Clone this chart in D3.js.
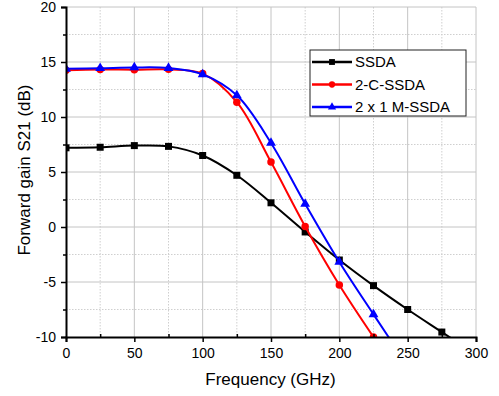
<!DOCTYPE html>
<html>
<head>
<meta charset="utf-8">
<script src="https://cdn.jsdelivr.net/npm/d3@7"></script>
<style>
  body { margin: 0; background: #fff; }
  svg { display: block; font-family: "Liberation Sans", Arial, sans-serif; }
</style>
</head>
<body>
<div id="chart"></div>
<script>
// Frequency points (GHz)
const freq = [0, 25, 50, 75, 100, 125, 150, 175, 200, 225, 250, 275, 300];

// Forward gain S21 (dB)
const ssda = [7.2, 7.25, 7.4, 7.33, 6.5, 4.7, 2.2, -0.45, -3.0, -5.33, -7.5, -9.55, -11.6];
const twoCSsda = [14.25, 14.32, 14.3, 14.33, 13.95, 11.35, 5.9, 0.05, -5.27, -10.0];
const mSsda = [14.38, 14.43, 14.5, 14.45, 13.88, 11.97, 7.64, 2.1, -3.18, -7.94, -12.6];

const xTicks = [0, 50, 100, 150, 200, 250, 300];
const yTicks = [-10, -5, 0, 5, 10, 15, 20];

const series = [
  { name: 'SSDA', values: ssda, color: '#000000', symbol: d3.symbolSquare, size: 49 },
  { name: '2-C-SSDA', values: twoCSsda, color: '#ff0000', symbol: d3.symbolCircle, size: 44 },
  { name: '2 x 1 M-SSDA', values: mSsda, color: '#0000ff', symbol: d3.symbolTriangle, size: 42 }
];

const width = 499, height = 396;
const margin = { top: 7, right: 23, bottom: 59, left: 66 };
const innerWidth = width - margin.left - margin.right;
const innerHeight = height - margin.top - margin.bottom;

const svg = d3.select('#chart').append('svg')
  .attr('width', width)
  .attr('height', height);

const g = svg.append('g')
  .attr('transform', `translate(${margin.left},${margin.top})`);

const x = d3.scaleLinear().domain([0, 300]).range([0, innerWidth]);
const y = d3.scaleLinear().domain([-10, 20]).range([innerHeight, 0]);

// Minor grid (dotted)
const xMinor = d3.range(25, 300, 50);
const yMinor = d3.range(-7.5, 20, 5);
g.append('g').selectAll('line').data(xMinor).enter().append('line')
  .attr('x1', d => x(d)).attr('x2', d => x(d))
  .attr('y1', 0).attr('y2', innerHeight)
  .attr('stroke', '#cfcfcf').attr('stroke-dasharray', '1.5,1.5');
g.append('g').selectAll('line').data(yMinor).enter().append('line')
  .attr('y1', d => y(d)).attr('y2', d => y(d))
  .attr('x1', 0).attr('x2', innerWidth)
  .attr('stroke', '#cfcfcf').attr('stroke-dasharray', '1.5,1.5');

// Major grid (solid)
g.append('g').selectAll('line').data(xTicks.slice(1)).enter().append('line')
  .attr('x1', d => x(d)).attr('x2', d => x(d))
  .attr('y1', 0).attr('y2', innerHeight)
  .attr('stroke', '#c4c4c4');
g.append('g').selectAll('line').data(yTicks.slice(1)).enter().append('line')
  .attr('y1', d => y(d)).attr('y2', d => y(d))
  .attr('x1', 0).attr('x2', innerWidth)
  .attr('stroke', '#c4c4c4');

// Clip to plot area
svg.append('defs').append('clipPath').attr('id', 'clip')
  .append('rect').attr('width', innerWidth).attr('height', innerHeight);

const plot = g.append('g').attr('clip-path', 'url(#clip)');

const line = d3.line()
  .x((d, i) => x(freq[i]))
  .y(d => y(d))
  .curve(d3.curveCatmullRom.alpha(0.5));

series.forEach(s => {
  plot.append('path')
    .datum(s.values)
    .attr('fill', 'none')
    .attr('stroke', s.color)
    .attr('stroke-width', 2)
    .attr('d', line);

  plot.selectAll(null)
    .data(s.values)
    .enter()
    .append('path')
    .attr('transform', (d, i) => `translate(${x(freq[i])},${y(d)})`)
    .attr('d', d3.symbol().type(s.symbol).size(s.size))
    .attr('fill', s.color);
});

const fmt = d => String(d);

// X axis (major outward, minor inward)
const xAxis = g.append('g')
  .attr('transform', `translate(0,${innerHeight})`)
  .call(d3.axisBottom(x).tickValues(xTicks).tickSize(5).tickPadding(6).tickFormat(fmt));
xAxis.selectAll('text').attr('font-size', '14px').attr('fill', '#000');
g.append('g')
  .attr('transform', `translate(0,${innerHeight})`)
  .call(d3.axisTop(x).tickValues(xMinor).tickSize(3))
  .call(a => a.select('.domain').remove())
  .call(a => a.selectAll('.tick text').remove());

// Y axis
const yAxis = g.append('g')
  .call(d3.axisLeft(y).tickValues(yTicks).tickSize(5).tickPadding(5).tickFormat(fmt));
yAxis.selectAll('text').attr('font-size', '14px').attr('fill', '#000');
g.append('g')
  .call(d3.axisLeft(y).tickValues(yMinor).tickSize(3))
  .call(a => a.select('.domain').remove())
  .call(a => a.selectAll('.tick text').remove());

g.selectAll('.domain').attr('stroke', '#000').attr('stroke-width', 2);
g.selectAll('.tick line').attr('stroke', '#000').attr('stroke-width', 1.5);

// Axis titles
svg.append('text')
  .attr('x', 270.5)
  .attr('y', 385)
  .attr('text-anchor', 'middle')
  .attr('font-size', '17px')
  .text('Frequency (GHz)');

svg.append('text')
  .attr('transform', 'translate(30,170) rotate(-90)')
  .attr('text-anchor', 'middle')
  .attr('font-size', '17px')
  .text('Forward gain S21 (dB)');

// Legend
const legend = svg.append('g').attr('transform', 'translate(310,50)');
legend.append('rect')
  .attr('width', 156).attr('height', 66)
  .attr('fill', '#fff').attr('stroke', '#222').attr('stroke-width', 1);

series.forEach((s, i) => {
  const row = legend.append('g').attr('transform', `translate(0,${12 + i * 22.5})`);
  row.append('line')
    .attr('x1', 2).attr('x2', 42)
    .attr('stroke', s.color).attr('stroke-width', 2.3);
  row.append('path')
    .attr('transform', 'translate(22,0)')
    .attr('d', d3.symbol().type(s.symbol).size(s.size * 0.7))
    .attr('fill', s.color);
  row.append('text')
    .attr('x', 45)
    .attr('dy', '0.35em')
    .attr('font-size', '15px')
    .text(s.name);
});
</script>
</body>
</html>
